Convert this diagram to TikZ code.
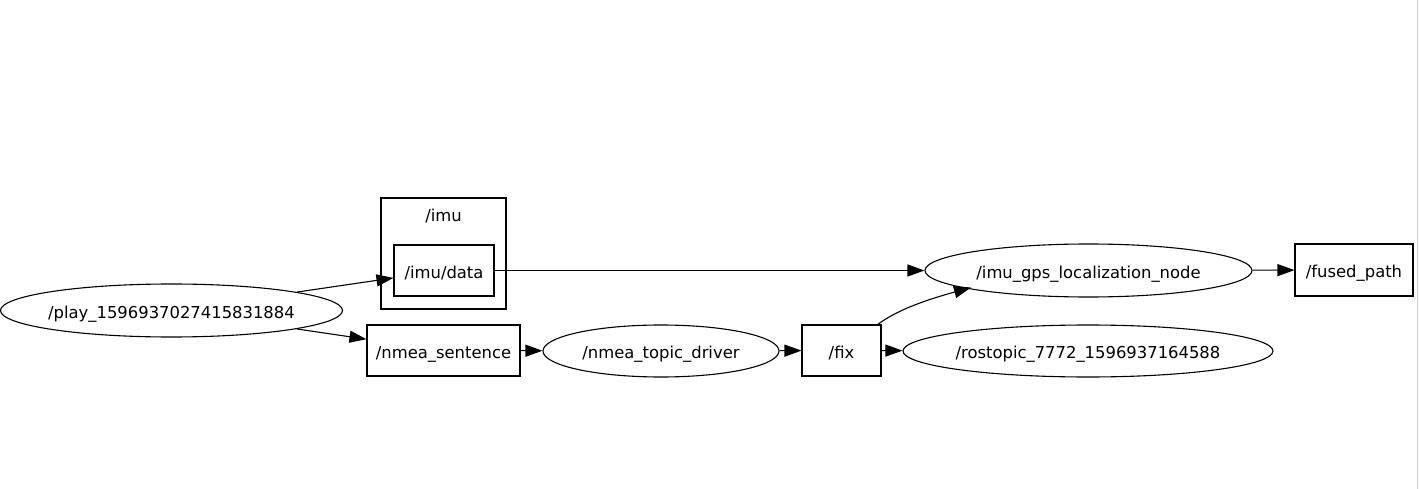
\documentclass[tikz,border=0pt]{standalone}
\usepackage{fontspec}
\setmainfont{DejaVu Sans}
\usetikzlibrary{shapes.geometric,arrows.meta}
\tikzset{
  lbl/.style={font=\fontsize{16.4}{19}\selectfont, text height=15.5pt, text depth=0pt},
  base/.style={draw, line width=1.1pt, inner sep=0pt, lbl},
  topic/.style={base, rectangle},
  rosnode/.style={base, ellipse, inner xsep=-25pt},
  edge/.style={line width=1.1pt, -{Triangle[length=17pt,width=12pt]}},
}
\begin{document}
\begin{tikzpicture}[x=1pt,y=-1pt]
\useasboundingbox (0,0) rectangle (1419,489);
\fill[white] (0,0) rectangle (1419,489);
\draw[line width=1.5pt, black!18] (1417.5,0) -- (1417.5,489);
% cluster
\node[topic, minimum width=125pt, minimum height=111pt] (imucluster) at (443.5,253.5) {};
\node[lbl, inner sep=0pt] (imulabel) at (443.5,214) {/imu};
% nodes
\node[rosnode, minimum width=342pt, minimum height=53pt] (play) at (171.5,310.5) {/play\_1596937027415831884};
\node[topic, minimum width=100pt, minimum height=51pt] (imudata) at (444,270.5) {/imu/data};
\node[topic, minimum width=153pt, minimum height=51pt] (nmea) at (443.5,350.5) {/nmea\_sentence};
\node[rosnode, minimum width=236pt, minimum height=52pt] (driver) at (661,351) {/nmea\_topic\_driver};
\node[topic, minimum width=79pt, minimum height=51pt] (fix) at (841.5,350.5) {/fix};
\node[rosnode, minimum width=327pt, minimum height=53pt] (loc) at (1088.5,270.5) {/imu\_gps\_localization\_node};
\node[topic, minimum width=118pt, minimum height=52pt] (fused) at (1354,270) {/fused\_path};
\node[rosnode, minimum width=370pt, minimum height=52pt] (rostopic) at (1088,351) {/rostopic\_7772\_1596937164588};
\coordinate (fixout) at (877,325);
\coordinate (locin) at (971,287.5);
% edges
\draw[edge] (play) -- (imudata);
\draw[edge] (play) -- (nmea);
\draw[edge] (imudata) -- (loc);
\draw[edge] (nmea) -- (driver);
\draw[edge] (driver) -- (fix);
\draw[edge] (fix) -- (rostopic);
\draw[edge] (fixout) .. controls (893,313) and (915,303) .. (locin);
\draw[edge] (loc) -- (fused);
\end{tikzpicture}
\end{document}
